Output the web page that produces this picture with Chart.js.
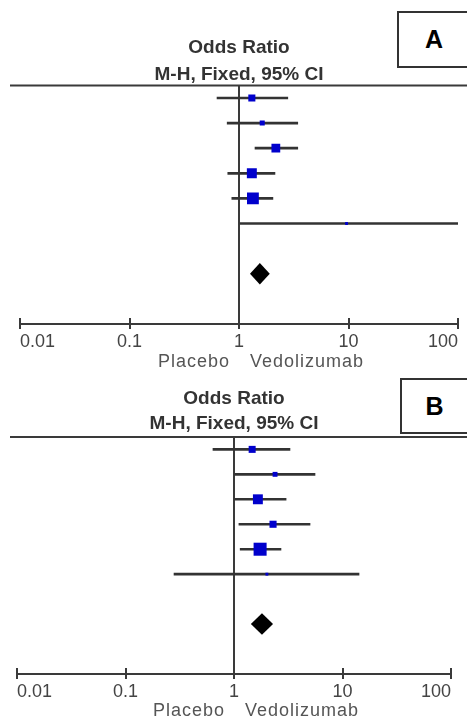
<!DOCTYPE html>
<html>
<head>
<meta charset="utf-8">
<script src="https://cdn.jsdelivr.net/npm/chart.js@4.4.0/dist/chart.umd.min.js"></script>
<style>
  body { margin: 0; width: 467px; height: 720px; overflow: hidden; background: #fff; font-family: "Liberation Sans", Arial, sans-serif; }
  .panel { position: absolute; left: 0; width: 467px; }
  .tag { position: absolute; z-index: 2; border: 2px solid #333; box-sizing: border-box; display: flex; align-items: center; justify-content: center; font-weight: bold; font-size: 25px; color: #000; background: #fff; }
</style>
</head>
<body>
<div class="panel" style="top:0;height:372px"><canvas id="chartA" width="467" height="372"></canvas></div>
<div class="panel" style="top:372px;height:348px"><canvas id="chartB" width="467" height="348"></canvas></div>
<div class="tag" style="left:397px;top:11px;width:74px;height:57px">A</div>
<div class="tag" style="left:400px;top:378px;width:69px;height:56px">B</div>

<script>
// rows of the forest plot (1..6 = studies, pooled estimate drawn lower down)
const studyRows = [1, 2, 3, 4, 5, 6];
const pooledRow = 8;
const tickValues = [0.01, 0.1, 1, 10, 100];
const tickLabels = ['0.01', '0.1', '1', '10', '100'];
const favourLabels = ['Placebo', 'Vedolizumab'];
const titleText = 'Odds Ratio';
const subtitleText = 'M-H, Fixed, 95% CI';

// panel A
const orA = [1.31, 1.63, 2.17, 1.31, 1.34, 9.6];
const lowA = [0.63, 0.78, 1.40, 0.79, 0.86, 1.02];
const highA = [2.79, 3.44, 3.44, 2.13, 2.04, 100];
const weightA = [12.5, 6.4, 19.3, 24.8, 35.0, 2.0];
const pooledA = [1.55, 1.26, 1.91]; // estimate, lower, upper

// panel B
const orB = [1.47, 2.39, 1.66, 2.29, 1.74, 2.01];
const lowB = [0.64, 1.02, 1.02, 1.11, 1.14, 0.28];
const highB = [3.28, 5.58, 3.02, 5.02, 2.71, 14.2];
const weightB = [12.3, 6.0, 24.6, 12.6, 42.4, 2.1];
const pooledB = [1.81, 1.43, 2.29];

const forestPlugin = {
    id: 'forest',
    afterDatasetsDraw(chart, args, opts) {
        const x = chart.scales.x, y = chart.scales.y, ctx = chart.ctx;
        const cy = y.getPixelForValue(pooledRow);
        const h = Math.abs(y.getPixelForValue(pooledRow + 0.43) - cy);
        const est = x.getPixelForValue(opts.pooled[0]);
        ctx.save();
        ctx.fillStyle = '#000';
        ctx.beginPath();
        ctx.moveTo(x.getPixelForValue(opts.pooled[1]), cy);
        ctx.lineTo(est, cy - h);
        ctx.lineTo(x.getPixelForValue(opts.pooled[2]), cy);
        ctx.lineTo(est, cy + h);
        ctx.closePath();
        ctx.fill();
        ctx.restore();
    },
    afterDraw(chart, args, opts) {
        const x = chart.scales.x, ctx = chart.ctx, area = chart.chartArea;
        ctx.save();
        ctx.strokeStyle = '#3a3a3a';
        ctx.lineWidth = 2;
        // rule under the column heading
        ctx.beginPath();
        ctx.moveTo(10, area.top);
        ctx.lineTo(chart.width, area.top);
        ctx.stroke();
        // tick marks cross the axis line
        ctx.beginPath();
        x.ticks.forEach(t => {
            const px = Math.round(x.getPixelForValue(t.value));
            ctx.moveTo(px, area.bottom - 6);
            ctx.lineTo(px, area.bottom);
        });
        ctx.stroke();
        // favours labels either side of the line of no effect
        const one = x.getPixelForValue(1);
        const ly = area.bottom + opts.favourOffset;
        ctx.fillStyle = '#555';
        ctx.font = '18px "Liberation Sans", Arial, sans-serif';
        ctx.letterSpacing = '1px';
        ctx.textBaseline = 'middle';
        ctx.textAlign = 'right';
        ctx.fillText(favourLabels[0], one - 9, ly);
        ctx.textAlign = 'left';
        ctx.fillText(favourLabels[1], one + 11, ly);
        ctx.restore();
    }
};

function makeForest(idGrafica, arrayOR, arrayLow, arrayHigh, arrayWeight, pooled, lay) {
    new Chart(document.getElementById(idGrafica), {
        type: 'scatter',
        data: {
            datasets: [{
                type: 'scatter',
                label: 'Odds ratio',
                data: studyRows.map((r, i) => ({ x: arrayOR[i], y: r })),
                pointStyle: 'rect',
                pointRadius: arrayWeight.map(w => Math.sqrt(w) * 1.414),
                backgroundColor: '#0000cc',
                borderWidth: 0,
                order: 0
            }, {
                type: 'bar',
                label: '95% CI',
                indexAxis: 'y',
                data: studyRows.map((r, i) => ({ x: [arrayLow[i], arrayHigh[i]], y: r })),
                backgroundColor: '#333',
                borderWidth: 0,
                barThickness: 2,
                order: 1
            }]
        },
        options: {
            responsive: false,
            animation: false,
            events: [],
            layout: { padding: { left: lay.left, right: lay.right, top: 0, bottom: 0 } },
            plugins: {
                legend: { display: false },
                tooltip: { enabled: false },
                title: {
                    display: true,
                    text: titleText,
                    color: '#333',
                    font: { family: '"Liberation Sans", Arial, sans-serif', size: 19, weight: 'bold', lineHeight: 1.1 },
                    padding: { top: lay.titleTop, bottom: lay.titleGap }
                },
                subtitle: {
                    display: true,
                    text: subtitleText,
                    color: '#333',
                    font: { family: '"Liberation Sans", Arial, sans-serif', size: 19, weight: 'bold', lineHeight: 1.1 },
                    padding: { top: 0, bottom: lay.subGap }
                },
                forest: { pooled: pooled, favourOffset: lay.favourOffset }
            },
            scales: {
                x: {
                    type: 'logarithmic',
                    min: 0.01,
                    max: 100,
                    afterBuildTicks: scale => {
                        scale.ticks = tickValues.map(v => ({ value: v }));
                    },
                    afterFit: scale => {
                        scale.height = lay.axisHeight;
                    },
                    ticks: {
                        align: 'inner',
                        autoSkip: false,
                        maxRotation: 0,
                        padding: 2,
                        color: '#444',
                        font: { family: '"Liberation Sans", Arial, sans-serif', size: 18 },
                        callback: (value, index) => tickLabels[index]
                    },
                    grid: {
                        drawOnChartArea: true,
                        color: c => (c.tick && c.tick.value === 1 ? '#3a3a3a' : 'rgba(0,0,0,0)'),
                        tickColor: '#3a3a3a',
                        lineWidth: 2,
                        tickLength: 5
                    },
                    border: { display: true, color: '#3a3a3a', width: 2 }
                },
                y: {
                    type: 'linear',
                    min: 0.5,
                    max: 10,
                    reverse: true,
                    offset: false,
                    display: false
                }
            }
        },
        plugins: [forestPlugin]
    });
}

makeForest('chartA', orA, lowA, highA, weightA, pooledA,
    { left: 20, right: 9, titleTop: 37.5, titleGap: 6.1, subGap: 0, axisHeight: 48, favourOffset: 38.5 });
makeForest('chartB', orB, lowB, highB, weightB, pooledB,
    { left: 17, right: 16, titleTop: 16.5, titleGap: 4.1, subGap: 2.5, axisHeight: 46, favourOffset: 37.5 });
</script>
</body>
</html>
